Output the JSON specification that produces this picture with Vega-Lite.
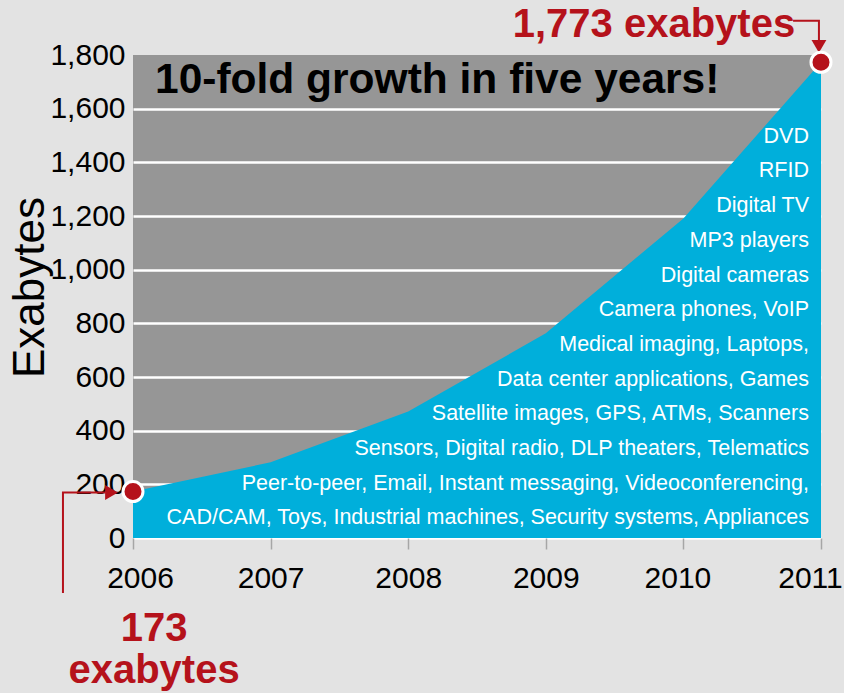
{
  "$schema": "https://vega.github.io/schema/vega-lite/v6.json",
  "width": 688,
  "height": 483,
  "autosize": {"type": "none"},
  "padding": {"left": 133, "top": 55, "right": 23, "bottom": 155},
  "background": "#e3e3e3",
  "config": {"view": {"fill": "#969696", "stroke": null}, "font": "Liberation Sans"},
  "datasets": {
    "growth": [
      {"year": 2006, "exabytes": 173},
      {"year": 2007, "exabytes": 282},
      {"year": 2008, "exabytes": 471},
      {"year": 2009, "exabytes": 763},
      {"year": 2010, "exabytes": 1191},
      {"year": 2011, "exabytes": 1773}
    ],
    "apps": [
      {"year": 2011, "exabytes": 1495, "label": "DVD"},
      {"year": 2011, "exabytes": 1366, "label": "RFID"},
      {"year": 2011, "exabytes": 1237, "label": "Digital TV"},
      {"year": 2011, "exabytes": 1107, "label": "MP3 players"},
      {"year": 2011, "exabytes": 978, "label": "Digital cameras"},
      {"year": 2011, "exabytes": 849, "label": "Camera phones, VoIP"},
      {"year": 2011, "exabytes": 720, "label": "Medical imaging, Laptops,"},
      {"year": 2011, "exabytes": 590, "label": "Data center applications, Games"},
      {"year": 2011, "exabytes": 461, "label": "Satellite images, GPS, ATMs, Scanners"},
      {"year": 2011, "exabytes": 332, "label": "Sensors, Digital radio, DLP theaters, Telematics"},
      {"year": 2011, "exabytes": 202, "label": "Peer-to-peer, Email, Instant messaging, Videoconferencing,"},
      {"year": 2011, "exabytes": 73, "label": "CAD/CAM, Toys, Industrial machines, Security systems, Appliances"}
    ],
    "headline": [
      {"year": 2006, "exabytes": 1658, "label": "10-fold growth in five years!"}
    ],
    "arrows": [
      {"path": "top", "step": 1, "year": 2010.797, "exabytes": 1928},
      {"path": "top", "step": 2, "year": 2010.985, "exabytes": 1928},
      {"path": "top", "step": 3, "year": 2010.985, "exabytes": 1845},
      {"path": "bottom", "step": 1, "year": 2005.491, "exabytes": -205},
      {"path": "bottom", "step": 2, "year": 2005.491, "exabytes": 169.6},
      {"path": "bottom", "step": 3, "year": 2005.8, "exabytes": 169.6}
    ],
    "heads": [
      {"year": 2010.985, "exabytes": 1832, "shape": "triangle-down"},
      {"year": 2005.844, "exabytes": 169.6, "shape": "triangle-right"}
    ],
    "ends": [
      {"year": 2006, "exabytes": 173},
      {"year": 2011, "exabytes": 1773}
    ],
    "callouts": [
      {"year": 2009.786, "exabytes": 1867, "label": "1,773 exabytes"},
      {"year": 2006.153, "exabytes": -384, "label": "173\nexabytes"}
    ]
  },
  "encoding": {
    "x": {
      "field": "year",
      "type": "quantitative",
      "scale": {"domain": [2006, 2011], "nice": false, "zero": false},
      "axis": {
        "values": [2006, 2007, 2008, 2009, 2010, 2011],
        "format": "d",
        "title": null,
        "labelFontSize": 30,
        "labelColor": "black",
        "labelPadding": 14,
        "labelFlush": false,
        "labelOverlap": false,
        "labelOffset": {"condition": [{"test": "datum.value == 2011", "value": -11}, {"test": "datum.value == 2006", "value": 7}, {"test": "datum.value == 2010", "value": -6}], "value": 0},
        "tickColor": "#a6a6a6",
        "tickSize": 11,
        "tickWidth": 1.5,
        "domain": false,
        "grid": false
      }
    },
    "y": {
      "field": "exabytes",
      "type": "quantitative",
      "scale": {"domain": [0, 1800], "nice": false},
      "axis": {
        "values": [0, 200, 400, 600, 800, 1000, 1200, 1400, 1600, 1800],
        "format": ",d",
        "labelFontSize": 30,
        "labelColor": "black",
        "labelPadding": 8,
        "labelOverlap": false,
        "ticks": false,
        "domain": false,
        "grid": true,
        "gridColor": {"condition": {"test": "datum.value >= 1800", "value": "transparent"}, "value": "white"},
        "gridWidth": 2.5,
        "gridOpacity": 1,
        "title": "Exabytes",
        "titleFontSize": 44,
        "titleFontWeight": "normal",
        "titleColor": "black",
        "titleAngle": -90,
        "titleX": -90,
        "titleY": 232,
        "titleAlign": "center",
        "titleBaseline": "alphabetic"
      }
    }
  },
  "layer": [
    {
      "data": {"name": "growth"},
      "mark": {"type": "area", "color": "#00afdb", "opacity": 1}
    },
    {
      "data": {"name": "apps"},
      "mark": {"type": "text", "align": "right", "baseline": "middle", "dx": -12, "fontSize": 21.5, "color": "white"},
      "encoding": {"text": {"field": "label"}}
    },
    {
      "data": {"name": "headline"},
      "mark": {"type": "text", "align": "left", "baseline": "alphabetic", "dx": 22, "fontSize": 42.5, "fontWeight": "bold", "color": "black"},
      "encoding": {"text": {"field": "label"}}
    },
    {
      "data": {"name": "arrows"},
      "mark": {"type": "line", "color": "#b5121b", "strokeWidth": 2},
      "encoding": {
        "detail": {"field": "path"},
        "order": {"field": "step", "type": "quantitative"}
      }
    },
    {
      "data": {"name": "heads"},
      "mark": {"type": "point", "filled": true, "color": "#b5121b", "opacity": 1, "size": 220},
      "encoding": {"shape": {"field": "shape", "type": "nominal", "scale": null, "legend": null}}
    },
    {
      "data": {"name": "ends"},
      "mark": {"type": "point", "shape": "circle", "filled": true, "fill": "#b5121b", "stroke": "white", "strokeWidth": 3, "opacity": 1, "size": 400}
    },
    {
      "data": {"name": "callouts"},
      "mark": {"type": "text", "align": "center", "baseline": "alphabetic", "lineBreak": "\n", "lineHeight": 42, "fontSize": 40, "fontWeight": "bold", "color": "#b5121b"},
      "encoding": {"text": {"field": "label"}}
    }
  ]
}
